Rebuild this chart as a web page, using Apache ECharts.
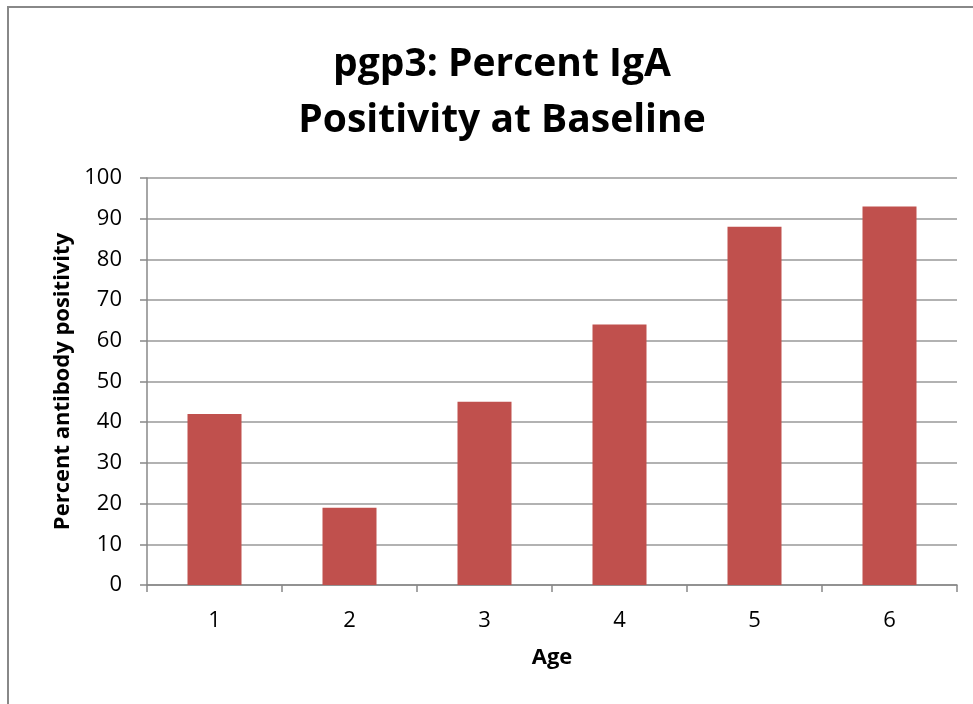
<!DOCTYPE html>
<html>
<head>
<meta charset="utf-8">
<script src="https://cdn.jsdelivr.net/npm/echarts@6/dist/echarts.min.js"></script>
<style>
  html, body { margin: 0; padding: 0; background: #fff; }
  #chart { width: 973px; height: 704px; }
</style>
</head>
<body>
<div id="chart"></div>
<script>
// Age groups and percent IgA positivity per group
const ages = ['1', '2', '3', '4', '5', '6'];
const positivity = [42, 19, 45, 64, 88, 93];
const yTicks = { min: 0, max: 100, step: 10 };

const chart = echarts.init(document.getElementById('chart'));
const font = '"Open Sans", sans-serif';

chart.setOption({
  backgroundColor: '#ffffff',
  animation: false,
  title: {
    text: 'pgp3: Percent IgA\nPositivity at Baseline',
    left: 497,
    top: 32,
    textAlign: 'center',
    textStyle: {
      fontFamily: font,
      fontWeight: 'bold',
      fontSize: 39,
      lineHeight: 56,
      color: '#000'
    }
  },
  graphic: [{
    type: 'rect',
    shape: { x: 8, y: 7, width: 1000, height: 1000 },
    style: { fill: 'none', stroke: '#888888', lineWidth: 2 },
    silent: true
  }],
  grid: { left: 147, right: 16, top: 178, bottom: 119 },
  xAxis: {
    type: 'category',
    data: ages,
    name: 'Age',
    nameLocation: 'middle',
    nameGap: 62,
    nameTextStyle: { fontFamily: font, fontWeight: 'bold', fontSize: 22, color: '#000' },
    axisLine: { lineStyle: { color: '#888', width: 1.5 } },
    axisTick: { show: true, length: 7, lineStyle: { color: '#888', width: 1.5 } },
    axisLabel: { fontFamily: font, fontSize: 22, color: '#000', margin: 25 },
    splitLine: { show: false }
  },
  yAxis: {
    type: 'value',
    min: yTicks.min,
    max: yTicks.max,
    interval: yTicks.step,
    name: 'Percent antibody positivity',
    nameLocation: 'middle',
    nameGap: 73,
    nameRotate: 90,
    nameTextStyle: { fontFamily: font, fontWeight: 'bold', fontSize: 22, color: '#000' },
    axisLine: { show: true, lineStyle: { color: '#888', width: 1.5 } },
    axisTick: { show: true, length: 7, lineStyle: { color: '#888', width: 1.5 } },
    axisLabel: { fontFamily: font, fontSize: 22, color: '#000', margin: 25 },
    splitLine: { show: true, lineStyle: { color: '#999', width: 1.5 } }
  },
  series: [{
    type: 'bar',
    data: positivity,
    barCategoryGap: '60%',
    itemStyle: { color: '#C0504D' }
  }]
});
</script>
</body>
</html>
